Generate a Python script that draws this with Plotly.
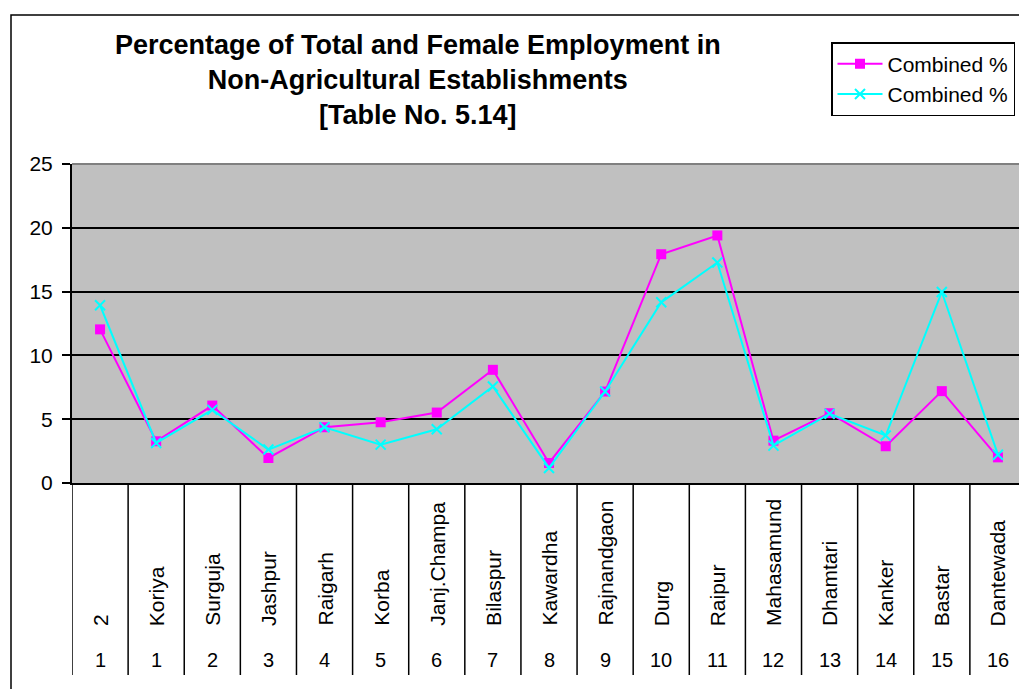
import plotly.graph_objects as go

# districts on the x axis, serial numbers shown under them
districts = ["2", "Koriya", "Surguja", "Jashpur", "Raigarh", "Korba", "Janj.Champa",
             "Bilaspur", "Kawardha", "Rajnandgaon", "Durg", "Raipur", "Mahasamund",
             "Dhamtari", "Kanker", "Bastar", "Dantewada"]
serial_no = ["1", "1", "2", "3", "4", "5", "6", "7", "8", "9", "10", "11", "12",
             "13", "14", "15", "16"]

# both series are labelled "Combined %" in the original legend
combined_total = [12.04, 3.27, 6.07, 1.96, 4.37, 4.76, 5.52, 8.87, 1.57, 7.17,
                  17.93, 19.40, 3.32, 5.47, 2.88, 7.20, 2.01]
combined_female = [13.93, 3.14, 5.73, 2.62, 4.37, 3.01, 4.21, 7.56, 1.18, 7.17,
                   14.16, 17.28, 2.93, 5.42, 3.72, 14.97, 2.22]

title_lines = ["Percentage of Total and Female Employment in",
               "Non-Agricultural Establishments",
               "[Table No. 5.14]"]

# the page body has an 8px margin, so the figure is drawn 8px in
OFF = 8
W, H = 1027 - OFF, 689 - OFF
L, R, T, B = 72, 1026, 164, 483
FONT = "Liberation Sans, Arial, sans-serif"


def px_x(p):
    return (p - L) / (R - L)


def px_y(p):
    return (B - p) / (B - T)


idx = list(range(len(districts)))

fig = go.Figure()
fig.add_trace(go.Scatter(
    x=idx, y=combined_total, name="Combined %", mode="lines+markers",
    line=dict(color="#FF00FF", width=2),
    marker=dict(symbol="square", size=10, color="#FF00FF")))
fig.add_trace(go.Scatter(
    x=idx, y=combined_female, name="Combined %", mode="lines+markers",
    line=dict(color="#00FFFF", width=2),
    marker=dict(symbol="x-thin", size=10, color="#00FFFF",
                line=dict(color="#00FFFF", width=2))))

shapes = []
# outer chart border
shapes.append(dict(type="rect", xref="paper", yref="paper",
                   x0=px_x(11), x1=px_x(1060), y0=px_y(15), y1=px_y(720),
                   line=dict(color="black", width=1.5), fillcolor="rgba(0,0,0,0)"))
# grey top / right edges of the plot area
shapes.append(dict(type="line", xref="paper", yref="paper", x0=0, x1=1, y0=1, y1=1,
                   line=dict(color="#808080", width=2)))
shapes.append(dict(type="line", xref="paper", yref="paper", x0=1, x1=1, y0=0, y1=1,
                   line=dict(color="#808080", width=2)))
# category separators through both label rows
for k in range(len(districts) + 1):
    shapes.append(dict(type="line", xref="x", yref="paper",
                       x0=k - 0.5, x1=k - 0.5, y0=0, y1=px_y(675),
                       line=dict(color="black", width=1.5)))

annotations = [dict(
    text="<b>" + "<br>".join(title_lines) + "</b>", xref="paper", yref="paper",
    x=px_x(418), y=px_y(80), xanchor="center", yanchor="middle", showarrow=False,
    font=dict(family=FONT, size=27, color="black"))]
for i, (name, num) in enumerate(zip(districts, serial_no)):
    annotations.append(dict(text=name, x=i, xref="x", yref="paper",
                            y=px_y(628), xanchor="center", yanchor="bottom",
                            textangle=-90, showarrow=False,
                            font=dict(family=FONT, size=21, color="black")))
    annotations.append(dict(text=num, x=i, xref="x", yref="paper",
                            y=px_y(660), xanchor="center", yanchor="middle",
                            showarrow=False,
                            font=dict(family=FONT, size=20, color="black")))

fig.update_layout(
    width=W, height=H,
    margin=dict(l=L - OFF, r=W - (R - OFF), t=T - OFF, b=H - (B - OFF), pad=0),
    paper_bgcolor="white", plot_bgcolor="#C0C0C0",
    font=dict(family=FONT, size=20, color="black"),
    showlegend=True,
    legend=dict(x=px_x(831), y=px_y(42), xanchor="left", yanchor="top",
                bgcolor="white", bordercolor="black", borderwidth=1.5,
                itemwidth=45,
                font=dict(family=FONT, size=21, color="black")),
    shapes=shapes, annotations=annotations,
)
fig.update_xaxes(range=[-0.5, len(districts) - 0.5], showticklabels=False,
                 showgrid=False, showline=True, linecolor="black", linewidth=2,
                 ticks="", zeroline=False)
fig.update_yaxes(range=[0, 25], dtick=5, showgrid=True, gridcolor="black", gridwidth=1.5,
                 showline=True, linecolor="black", linewidth=2, ticks="outside",
                 ticklen=8, tickwidth=1.5, tickcolor="black", zeroline=False,
                 ticklabelstandoff=5,
                 tickfont=dict(family=FONT, size=21, color="black"))

fig.write_html("out.html")
